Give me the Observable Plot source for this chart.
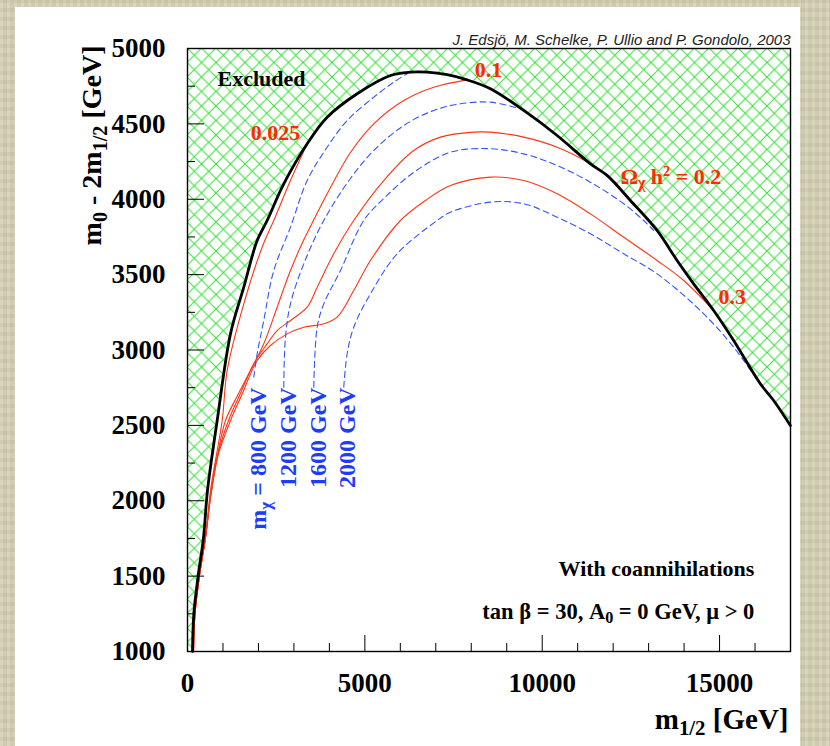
<!DOCTYPE html>
<html><head><meta charset="utf-8">
<script src="https://cdn.jsdelivr.net/npm/d3@7"></script>
<script src="https://cdn.jsdelivr.net/npm/@observablehq/plot@0.6"></script>
<style>
html,body{margin:0;padding:0;width:830px;height:746px;overflow:hidden;}
body{background-color:#d5d0b2;background-image:repeating-linear-gradient(90deg,rgba(255,255,255,0.06) 0 3px,rgba(0,0,0,0.03) 3px 7px),repeating-linear-gradient(0deg,rgba(255,255,255,0.05) 0 5px,rgba(0,0,0,0.03) 5px 9px);}
#panel{position:absolute;left:15px;top:7px;width:785px;height:739px;background:#fff;}
#chart{position:absolute;left:0;top:0;}
</style></head><body><div id="panel"></div><div id="chart"></div>
<script>
// ---- axes ----
const xDomain = [0, 17000];
const yDomain = [1000, 5000];
const xMajor = [0, 5000, 10000, 15000];
const xMinor = [1000, 2000, 3000, 4000, 6000, 7000, 8000, 9000, 11000, 12000, 13000, 14000, 16000];
const yMajor = [1000, 1500, 2000, 2500, 3000, 3500, 4000, 4500, 5000];
const yMinor = [1250, 1750, 2250, 2750, 3250, 3750, 4250, 4750];

// ---- curves: [m1/2, m0 - 2 m1/2] in GeV ----
const boundary = [[141,1000],[178,1250],[302,1504],[451,1756],[564,2068],[837,2532],[1212,3107],[1587,3417],[1964,3726],[2246,3859],[2714,4102],[3374,4368],[3937,4544],[4783,4700],[5722,4821],[6285,4843],[6756,4843],[7320,4826],[7883,4792],[8540,4733],[9479,4589],[10420,4423],[11359,4235],[11829,4158],[12486,3992],[13238,3793],[13802,3594],[14270,3439],[14834,3262],[15397,3063],[16150,2776],[16525,2665],[16996,2499]];

const omega0025 = [[169,1000],[211,1250],[338,1504],[507,1756],[648,2068],[978,2532],[1119,2864],[1587,3306],[2105,3682],[2432,3859],[2903,4124],[3374,4368]];
const omega01 = [[169,1000],[211,1250],[338,1504],[507,1756],[648,2022],[846,2300],[1071,2532],[1409,2698],[1776,2864],[2150,3041],[2528,3284],[2903,3527],[3269,3726],[3551,3859],[3937,4036],[4594,4310],[5251,4500],[6096,4655],[6942,4743],[7883,4792]];
const omega02 = [[169,1000],[211,1250],[338,1504],[507,1756],[648,2022],[846,2300],[1156,2532],[1466,2698],[1869,2908],[2246,3041],[2528,3129],[2903,3196],[3374,3284],[3656,3417],[4123,3638],[4687,3859],[5533,4124],[6378,4323],[7131,4412],[8069,4445],[8540,4445],[9479,4412],[10420,4345],[11359,4235],[11829,4158],[12111,4102]];
const omega03 = [[169,1000],[211,1250],[338,1504],[507,1756],[648,2022],[860,2300],[1212,2532],[1522,2698],[1964,2930],[2339,3030],[2810,3107],[3278,3151],[3842,3174],[4219,3218],[4687,3395],[5158,3594],[6003,3859],[6708,3992],[7413,4091],[8540,4147],[9479,4124],[10420,4036],[11359,3903],[12298,3748],[13238,3594],[13988,3461],[14834,3262]];

const mchi800 = [[1869,2820],[1964,2975],[2150,3196],[2432,3527],[2903,3815],[3374,4124],[3937,4345],[4501,4522],[5251,4677],[5815,4777],[6192,4832]];
const mchi1200 = [[2714,2753],[2762,3085],[2903,3306],[3278,3572],[3842,3859],[4594,4138],[5251,4323],[6096,4489],[6942,4589],[7695,4633],[8540,4644],[9386,4600]];
const mchi1600 = [[3560,2753],[3656,3151],[3842,3306],[4312,3527],[4969,3859],[5533,4005],[6378,4178],[7413,4312],[8540,4335],[9479,4301],[10420,4224],[11359,4113],[12298,3970],[12861,3859],[13143,3793]];
const mchi2000 = [[4405,2753],[4501,2975],[4687,3151],[5158,3373],[5910,3638],[7038,3859],[7413,3914],[8540,3981],[9479,3970],[10420,3881],[11359,3771],[12298,3638],[13238,3505],[14458,3262],[15397,3019],[16150,2770]];

// ---- texts ----
const credit = "J. Edsjö, M. Schelke, P. Ullio and P. Gondolo, 2003";
const xTitle = "m_{1/2} [GeV]";
const yTitle = "m_{0} - 2m_{1/2} [GeV]";
const omegaLabels = ["0.025", "0.1", "Ω_{χ} h^{2} = 0.2", "0.3"];
const massLabels = ["m_{χ} = 800 GeV", "1200 GeV", "1600 GeV", "2000 GeV"];
const infoLabels = ["Excluded", "With coannihilations", "tan β = 30, A_{0} = 0 GeV, μ > 0"];

// ---- annotation anchors (data coordinates) ----
const omegaPos = [[2480,4396,"middle"],[8484,4814,"middle"],[12204,4102,"start"],[15361,3306,"middle"]];
const massPos = [[2001,2752],[2847,2752],[3692,2752],[4510,2752]];
const infoPos = [[2086,4748,"middle"],[15981,1504,"end"],[15981,1217,"end"]];

const W = 830, H = 746, mL = 187, mR = 40, mT = 48, mB = 95;
const plotW = W - mL - mR, plotH = H - mT - mB;
const serif = "'Liberation Serif','Times New Roman',serif";
const red = "#ff3414", redText = "#ff2a00", blue = "#3354ff", blueText = "#1c3cff", green = "#33e033";

const pt = ([x, y]) => ({x, y});
const hatchData = [[xDomain[0], yDomain[0]], ...boundary].map(pt);

const redLine = d => Plot.line(d.map(pt), {x: "x", y: "y", stroke: red, strokeWidth: 1.1, curve: "catmull-rom"});
const blueLine = d => Plot.line(d.map(pt), {x: "x", y: "y", stroke: blue, strokeWidth: 1.1, strokeDasharray: "6,4", curve: "catmull-rom"});

const chart = Plot.plot({
  width: W, height: H,
  marginLeft: mL, marginRight: mR, marginTop: mT, marginBottom: mB,
  x: {domain: xDomain},
  y: {domain: yDomain},
  style: {background: "none", fontFamily: serif, fontWeight: "bold", fontSize: "27px", color: "black"},
  marks: [
    Plot.areaY(hatchData, {x: "x", y1: "y", y2: yDomain[1], fill: green, curve: "catmull-rom"}),
    redLine(omega0025), redLine(omega01), redLine(omega02), redLine(omega03),
    blueLine(mchi800), blueLine(mchi1200), blueLine(mchi1600), blueLine(mchi2000),
    Plot.line(boundary.map(pt), {x: "x", y: "y", stroke: "black", strokeWidth: 2.8, strokeLinejoin: "round", curve: "catmull-rom"}),
    Plot.frame({stroke: "black", strokeWidth: 1.4}),
    Plot.ruleX(xMinor, {insetTop: plotH - 8, stroke: "black"}),
    Plot.ruleX(xMajor, {insetTop: plotH - 16, stroke: "black"}),
    Plot.ruleY(yMinor, {insetRight: plotW - 8, stroke: "black"}),
    Plot.ruleY(yMajor, {insetRight: plotW - 17, stroke: "black"}),
    Plot.axisX({ticks: xMajor, tickSize: 0, tickPadding: 21, tickFormat: d => `${d}`, label: null, fontSize: 27}),
    Plot.axisY({ticks: yMajor, tickSize: 0, tickPadding: 22, tickFormat: d => `${d}`, label: null, fontSize: 27}),
    Plot.text([credit], {text: d => d, frameAnchor: "top-right", dy: -4, lineAnchor: "bottom", textAnchor: "end",
      fontFamily: "'Liberation Sans',Arial,sans-serif", fontStyle: "italic", fontWeight: "normal", fontSize: 15, fill: "#222"}),
    Plot.text([xTitle], {text: d => d, frameAnchor: "bottom-right", dx: -2, dy: 77, lineAnchor: "bottom", textAnchor: "end", fontSize: 29}),
    Plot.text([yTitle], {text: d => d, frameAnchor: "top-left", rotate: -90, dx: -87, dy: -3, lineAnchor: "bottom", textAnchor: "end", fontSize: 28}),
    ...omegaLabels.map((t, i) => Plot.text([t], {text: d => d, x: omegaPos[i][0], y: omegaPos[i][1], textAnchor: omegaPos[i][2], lineAnchor: "bottom", fill: redText, fontSize: 22})),
    ...massLabels.map((t, i) => Plot.text([t], {text: d => d, x: massPos[i][0], y: massPos[i][1], rotate: -90, textAnchor: "end", lineAnchor: "middle", fill: blueText, fontSize: 24})),
    ...infoLabels.map((t, i) => Plot.text([t], {text: d => d, x: infoPos[i][0], y: infoPos[i][1], textAnchor: infoPos[i][2], lineAnchor: "bottom", fill: "black", fontSize: i === 2 ? 22.5 : 22}))
  ]
});

// hatch pattern for the excluded region
const svg = d3.select(chart.tagName.toLowerCase() === "svg" ? chart : chart.querySelector("svg"));
const defs = svg.insert("defs", ":first-child");
const s = 14.5;
const pat = defs.append("pattern").attr("id", "hatch").attr("patternUnits", "userSpaceOnUse")
  .attr("width", s).attr("height", s).attr("x", mL).attr("y", mT);
pat.append("path").attr("d", `M-1,-1L${s+1},${s+1}M${s+1},-1L-1,${s+1}`).attr("stroke", green).attr("stroke-width", 1).attr("fill", "none");
svg.selectAll('g[aria-label="area"]').attr("fill", "url(#hatch)").selectAll("path").attr("fill", "url(#hatch)");

// sub/superscripts
svg.selectAll("text").each(function() {
  const t = this.textContent;
  if (!/[_^]\{/.test(t)) return;
  const parts = []; const re = /([_^])\{([^}]*)\}/g; let last = 0, m;
  while ((m = re.exec(t))) { if (m.index > last) parts.push([t.slice(last, m.index), null]); parts.push([m[2], m[1]]); last = re.lastIndex; }
  if (last < t.length) parts.push([t.slice(last), null]);
  const el = d3.select(this); el.text(null);
  for (const [str, k] of parts) {
    const ts = el.append("tspan").text(str);
    if (k === "_") ts.attr("baseline-shift", "-28%").attr("font-size", "72%");
    if (k === "^") ts.attr("baseline-shift", "55%").attr("font-size", "65%");
  }
});

document.getElementById("chart").appendChild(chart);
</script></body></html>
